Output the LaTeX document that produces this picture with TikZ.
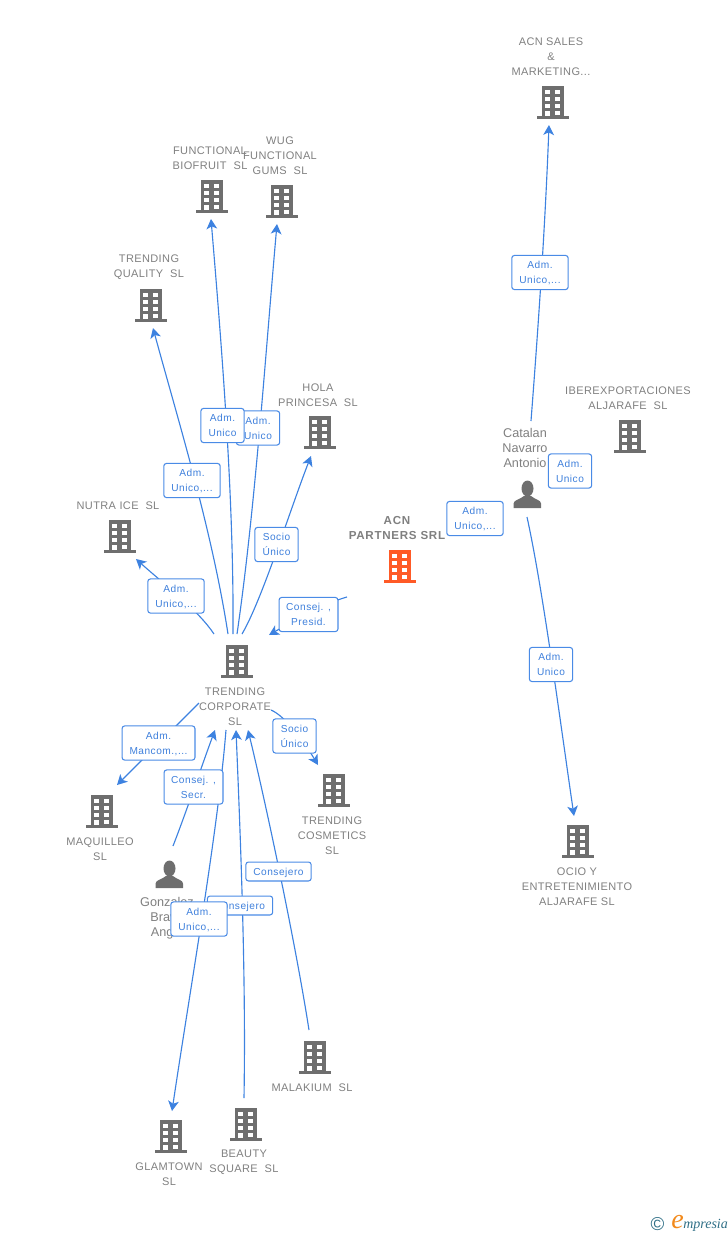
\documentclass[tikz,border=0pt]{standalone}
\usepackage{fontspec}
\setmainfont{Liberation Sans}
\newfontfamily\nmfont[LetterSpace=3.5]{Liberation Sans}
\newfontfamily\bdfont[LetterSpace=6]{Liberation Sans}
\newfontfamily\labfont[LetterSpace=5]{Liberation Sans}
\newfontfamily\logofont{Liberation Serif}
\usetikzlibrary{arrows.meta}
\definecolor{linkblue}{HTML}{3D82E0}
\definecolor{boxblue}{HTML}{4A8BE6}
\definecolor{txtblue}{HTML}{3F80DC}
\definecolor{namegrey}{HTML}{808080}
\definecolor{iconfill}{HTML}{6E6E6E}
\definecolor{acnred}{HTML}{FF5A26}
\definecolor{logoteal}{HTML}{2F6F86}
\definecolor{logoorange}{HTML}{F28A1C}
\newcommand{\bldg}[4]{%
  \node[inner sep=0pt,minimum size=1pt] (#1) at (#2,#3) {};
  \begin{scope}[shift={(#2,#3)}]
    \fill[#4] (-11,-16) rectangle (11,14);
    \fill[#4] (-16,14) rectangle (16,17.3);
    \foreach \yy in {-12,-5,2}{
      \fill[white] (-7.7,\yy) rectangle (-3,\yy+4);
      \fill[white] (2.3,\yy) rectangle (7,\yy+4);
    }
    \fill[white] (2.3,8.5) rectangle (7,12.5);
    \fill[white] (-7.7,8.5) rectangle (-3,14);
  \end{scope}}
\newcommand{\persn}[3]{%
  \node[inner sep=0pt,minimum size=1pt] (#1) at (#2,#3) {};
  \begin{scope}[shift={(#2,#3)}]
    \fill[iconfill] (0.5,-5.5) ellipse (6 and 8);
    \fill[iconfill] (-13.5,14) -- (-13.5,9.5) .. controls (-13.5,6) and (-7,5.5) .. (-3,2)
      -- (4,2) .. controls (8,5.5) and (14,6) .. (14,9.5) -- (14,14) -- cycle;
  \end{scope}}
\tikzset{
  link/.style={draw=linkblue,line width=0.85pt},
  tip/.style={-{Stealth[length=7.5pt,width=8pt,inset=2pt]}},
  nm/.style={text=namegrey,align=center,inner sep=0pt,yshift=-0.75pt,font=\nmfont\fontsize{8.25}{11.25}\selectfont},
  pn/.style={text=namegrey,align=center,inner sep=0pt,yshift=-0.75pt,font=\fontsize{9.5}{11.25}\selectfont},
  lab/.style={draw=boxblue,fill=white,line width=0.8pt,rounded corners=2pt,text=txtblue,
    align=center,inner sep=0pt,font=\labfont\fontsize{7.6}{11.25}\selectfont,minimum height=25.6pt,
    text height=18.5pt,text depth=2pt},
  w43/.style={lab,minimum width=32.5pt},
  w57/.style={lab,minimum width=42.3pt},
  w59/.style={lab,minimum width=44.2pt},
  w73/.style={lab,minimum width=54.7pt},
  wc/.style={lab,minimum width=49pt,minimum height=14.2pt,text height=6.7pt,text depth=1.3pt},
}
\begin{document}
\begin{tikzpicture}[x=0.75pt,y=-0.75pt]
\useasboundingbox (0,0) rectangle (728,1235);
% building and person icons
\bldg{S}{553}{102}{iconfill}
\bldg{F}{212}{196}{iconfill}
\bldg{W}{282}{201}{iconfill}
\bldg{Q}{151}{305}{iconfill}
\bldg{H}{320}{432}{iconfill}
\bldg{I}{630}{436}{iconfill}
\bldg{N}{120}{536}{iconfill}
\bldg{A}{400}{566}{acnred}
\bldg{T}{237}{661}{iconfill}
\bldg{M}{102}{811}{iconfill}
\bldg{C}{334}{790}{iconfill}
\bldg{O}{578}{841}{iconfill}
\bldg{K}{315}{1057}{iconfill}
\bldg{L}{171}{1136}{iconfill}
\bldg{B}{246}{1124}{iconfill}
\persn{P}{527}{494}
\persn{G}{169}{874}
% free ends of the connectors, beside their icons
\coordinate (Tn) at (214,634);   \coordinate (Nt) at (136,559);
\coordinate (Tq) at (228,634);   \coordinate (Qt) at (153,328);
\coordinate (Tf) at (233,634);   \coordinate (Ft) at (211,219);
\coordinate (Tw) at (237,634);   \coordinate (Wt) at (277,224);
\coordinate (Th) at (242,634);   \coordinate (Ht) at (311,456);
\coordinate (At) at (347,597);   \coordinate (Ta) at (269,635);
\coordinate (Tm) at (199,703);   \coordinate (Mt) at (117,785);
\coordinate (Tc) at (271,710);   \coordinate (Ct) at (318,765);
\coordinate (Gt) at (173,846);   \coordinate (Tg) at (215,730);
\coordinate (Tl) at (226,730);   \coordinate (Lt) at (172,1111);
\coordinate (Bt) at (244,1098);  \coordinate (Tb) at (236,730);
\coordinate (Kt) at (309,1030);  \coordinate (Tk) at (248,730);
\coordinate (Ps) at (531,421);   \coordinate (Sp) at (549,125);
\coordinate (Po) at (527,517);   \coordinate (Op) at (574,816);
% connectors
\draw[link,tip] (Tn) .. controls (198,610) and (165,585) .. (Nt);
\draw[link,tip] (Tq) .. controls (212,530) and (178,420) .. (Qt);
\draw[link,tip] (Tf) .. controls (234,500) and (222,350) .. (Ft);
\draw[link,tip] (Tw) .. controls (255,510) and (265,360) .. (Wt);
\draw[link,tip] (Th) .. controls (262,600) and (290,510) .. (Ht);
\draw[link,tip] (At) .. controls (325,603) and (295,620) .. (Ta);
\draw[link,tip] (Tm) .. controls (175,727) and (145,757) .. (Mt);
\draw[link,tip] (Tc) .. controls (285,716) and (303,740) .. (Ct);
\draw[link,tip] (Gt) .. controls (187,810) and (202,765) .. (Tg);
\draw[link,tip] (Tl) .. controls (218,830) and (190,990) .. (Lt);
\draw[link,tip] (Bt) .. controls (246,980) and (241,850) .. (Tb);
\draw[link,tip] (Kt) .. controls (295,940) and (265,800) .. (Tk);
\draw[link,tip] (Ps) .. controls (538,330) and (545,230) .. (Sp);
\draw[link,tip] (Po) .. controls (543,590) and (560,720) .. (Op);
% names
\node[nm] (tS) at (551,56) {ACN SALES\\\&\\MARKETING...};
\node[nm] (tF) at (210,157.5) {FUNCTIONAL\\BIOFRUIT~~SL};
\node[nm] (tW) at (280,155) {WUG\\FUNCTIONAL\\GUMS~~SL};
\node[nm] (tQ) at (149,266.5) {TRENDING\\QUALITY~~SL};
\node[nm] (tH) at (318,394.5) {HOLA\\PRINCESA~~SL};
\node[nm] (tI) at (628,397.5) {IBEREXPORTACIONES\\ALJARAFE~~SL};
\node[pn] (tP) at (525,447) {Catalan\\Navarro\\Antonio};
\node[nm] (tN) at (118,505) {NUTRA ICE~~SL};
\node[nm,font=\bdfont\bfseries\fontsize{8.7}{11.25}\selectfont] (tA) at (397,527.5) {ACN\\PARTNERS SRL};
\node[nm] (tT) at (235,706) {TRENDING\\CORPORATE\\SL};
\node[nm] (tM) at (100,848.5) {MAQUILLEO\\SL};
\node[nm] (tC) at (332,835) {TRENDING\\COSMETICS\\SL};
\node[nm] (tO) at (577,886) {OCIO Y\\ENTRETENIMIENTO\\ALJARAFE SL};
\node[pn] (tG) at (167,917) {Gonzalez\\Bravo\\Angel};
\node[nm] (tK) at (312,1087) {MALAKIUM~~SL};
\node[nm] (tL) at (169,1173.5) {GLAMTOWN\\SL};
\node[nm] (tB) at (244,1161.5) {BEAUTY\\SQUARE~~SL};
% link labels
\node[w57] (l1) at (176,596) {Adm.\\Unico,...};
\node[w57] (l2) at (192,480.5) {Adm.\\Unico,...};
\node[w43] (l4) at (258,428) {Adm.\\Unico};
\node[w43] (l3) at (222.5,425.5) {Adm.\\Unico};
\node[w43] (l5) at (276.5,544.5) {Socio\\Único};
\node[w59] (l6) at (308.5,614.5) {Consej. ,\\Presid.};
\node[w73] (l7) at (158.5,743) {Adm.\\Mancom.,...};
\node[w59] (l8) at (193.5,787) {Consej. ,\\Secr.};
\node[w43] (l9) at (294.5,736) {Socio\\Único};
\node[wc] (l10) at (278.5,871.5) {Consejero};
\node[wc] (l11) at (240,905.5) {Consejero};
\node[w57] (l12) at (199,919) {Adm.\\Unico,...};
\node[w57] (l13) at (540,272.5) {Adm.\\Unico,...};
\node[w43] (l14) at (570,471) {Adm.\\Unico};
\node[w57] (l15) at (475,518.5) {Adm.\\Unico,...};
\node[w43] (l16) at (551,664.5) {Adm.\\Unico};
% footer logo
\node[inner sep=0pt,text=logoteal,font=\fontsize{14}{14}\selectfont] (lc) at (657.5,1224) {\textcopyright};
\node[inner sep=0pt,text=logoorange,font=\logofont\itshape\fontsize{21}{21}\selectfont] (le) at (677.5,1222) {e};
\node[inner sep=0pt,anchor=west,text=logoteal,font=\logofont\itshape\fontsize{10.5}{10.5}\selectfont] (lm) at (683,1225) {mpresia};
\end{tikzpicture}
\end{document}
